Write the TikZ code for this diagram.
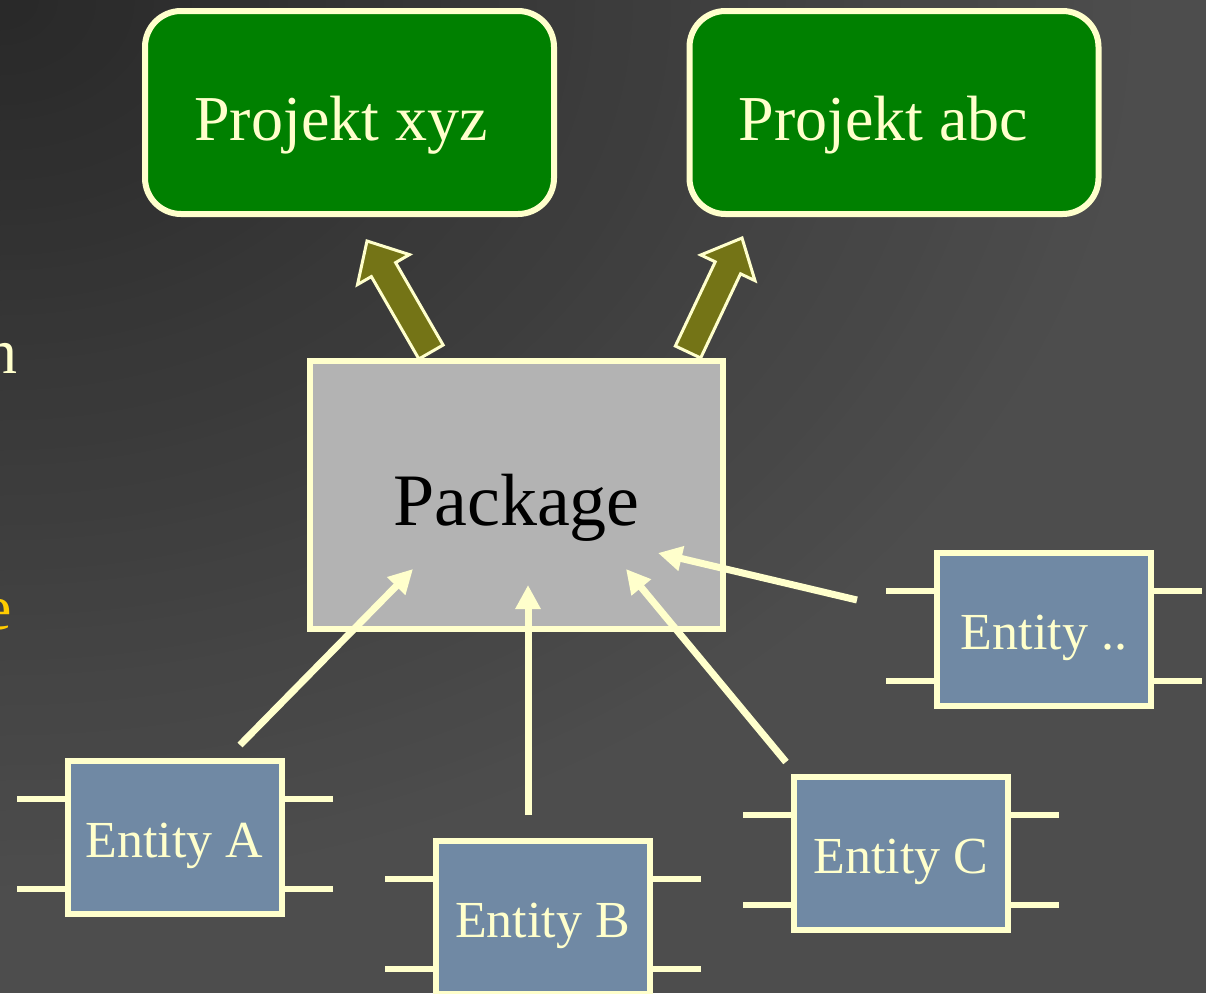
\documentclass[tikz,border=0pt]{standalone}
\usepackage{fontspec}
\setmainfont{Liberation Serif}
\usetikzlibrary{arrows.meta,calc}

\definecolor{cream}{HTML}{FFFFCC}
\definecolor{projgreen}{HTML}{008000}
\definecolor{pkggray}{HTML}{B3B3B3}
\definecolor{slate}{HTML}{7089A4}
\definecolor{olive}{HTML}{747416}
\definecolor{gold}{HTML}{FFCC00}
\definecolor{bgdark}{HTML}{282828}
\definecolor{bglight}{HTML}{4D4D4D}

\tikzset{
  projbox/.style={draw=cream, line width=6pt, fill=projgreen, rounded corners=36pt,
    minimum width=409pt, minimum height=203pt, inner sep=0pt, outer sep=0pt},
  projtext/.style={text=cream, font=\fontsize{64pt}{70pt}\selectfont, anchor=base, inner sep=0pt},
  pkgbox/.style={draw=cream, line width=6pt, fill=pkggray, minimum width=413pt,
    minimum height=268pt, inner sep=0pt, outer sep=0pt,
    font=\fontsize{74pt}{80pt}\selectfont, text=black, text height=60pt, text depth=0pt},
  entbox/.style={draw=cream, line width=6pt, fill=slate, minimum width=214pt,
    minimum height=153pt, inner sep=0pt, outer sep=0pt,
    font=\fontsize{52pt}{58pt}\selectfont, text=cream, text height=39pt, text depth=0pt},
  pinline/.style={draw=cream, line width=6pt},
  uses/.style={draw=cream, line width=7pt, -{Triangle[length=24pt,width=24pt]}},
  fat/.style={fill=olive, draw=cream, line width=3pt, line join=miter},
  edgetext/.style={font=\fontsize{64pt}{70pt}\selectfont, anchor=base east, inner sep=0pt},
}

% block arrow from #1 to #2 (shaft 28pt, head 60pt wide, 33pt long)
\newcommand\fatlink[2]{%
  \coordinate (#1h) at ($(#2)!33pt!(#1)$);
  \filldraw[fat] ($(#1)!14pt!90:(#2)$) -- ($(#1h)!14pt!90:(#2)$)
    -- ($(#1h)!30pt!90:(#2)$) -- (#2) -- ($(#1h)!30pt!-90:(#2)$)
    -- ($(#1h)!14pt!-90:(#2)$) -- ($(#1)!14pt!-90:(#2)$) -- cycle;}

\begin{document}
\begin{tikzpicture}[x=1pt,y=-1pt]
  \useasboundingbox (0,0) rectangle (1206,993);

  % background: darkens towards the top left corner
  \fill[bglight] (0,0) rectangle (1206,993);
  \begin{scope}
    \clip (0,0) rectangle (1206,993);
    \foreach \i in {60,59,...,1} {
      \pgfmathtruncatemacro\pct{round(100*\i/60)}
      \pgfmathsetmacro\rx{19.1667*\i}
      \pgfmathsetmacro\ry{15*\i}
      \fill[bglight!\pct!bgdark] (0,0) ellipse [x radius=\rx, y radius=\ry];
    }
  \end{scope}

  % text running in from the left edge
  \node[edgetext, text=cream] (frag1) at (18,373) {n};
  \node[edgetext, text=gold] (frag2) at (12,629) {e};

  % package and projects
  \coordinate (s1) at (431,352);
  \coordinate (t1) at (367,241);
  \coordinate (s2) at (688,352);
  \coordinate (t2) at (742,238);
  \fatlink{s1}{t1}
  \fatlink{s2}{t2}

  \node[projbox] (pxyz) at (349.5,112.5) {};
  \node[projtext] (pxyzlabel) at (341,140) {Projekt xyz};
  \node[projbox] (pabc) at (894,112.5) {};
  \node[projtext] (pabclabel) at (883.5,140) {Projekt abc};

  \node[pkgbox] (pkg) at (516.5,495) {Package};

  % entities with their pins
  \coordinate (ea) at (174.5,837.5);
  \coordinate (eb) at (542.5,917.5);
  \coordinate (ec) at (901,853.5);
  \coordinate (ed) at (1044,629.5);
  \foreach \c in {ea,eb,ec,ed} {
    \draw[pinline] ($(\c)+(-107,-38.5)$) -- ++(-51,0);
    \draw[pinline] ($(\c)+(-107,51.5)$) -- ++(-51,0);
    \draw[pinline] ($(\c)+(107,-38.5)$) -- ++(51,0);
    \draw[pinline] ($(\c)+(107,51.5)$) -- ++(51,0);
  }
  \node[entbox] (entA) at (ea) {Entity A};
  \node[entbox] (entB) at (eb) {Entity B};
  \node[entbox] (entC) at (ec) {Entity C};
  \node[entbox] (entD) at (ed) {Entity ..};

  % dependencies on the package
  \coordinate (fromA) at (240,745);
  \coordinate (toA) at (413,569);
  \coordinate (fromB) at (528,815);
  \coordinate (toB) at (528,585);
  \coordinate (fromC) at (786,762);
  \coordinate (toC) at (626,569);
  \coordinate (fromD) at (857,600);
  \coordinate (toD) at (658,553);
  \draw[uses] (fromA) -- (toA);
  \draw[uses] (fromB) -- (toB);
  \draw[uses] (fromC) -- (toC);
  \draw[uses] (fromD) -- (toD);
\end{tikzpicture}
\end{document}
